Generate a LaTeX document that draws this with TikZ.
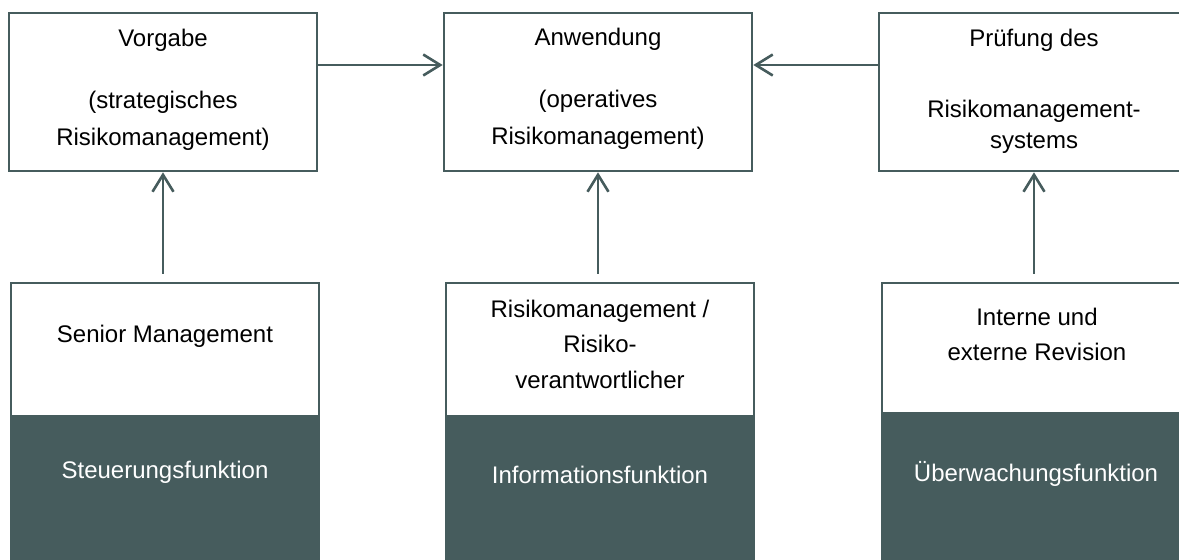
\documentclass[tikz,border=0pt]{standalone}
\usepackage{fontspec}
\setmainfont{Liberation Sans}
\usetikzlibrary{arrows.meta}
\definecolor{slate}{RGB}{70,92,93}
\newcommand\mylines[1]{\begin{tabular}[t]{@{}c@{}}#1\end{tabular}}
\begin{document}
\begin{tikzpicture}[x=1pt,y=-1pt,
  topbox/.style={draw=slate, line width=2.6pt, fill=white, inner sep=0pt,
    minimum width=308pt, minimum height=158pt},
  lowbox/.style={draw=slate, line width=2.6pt, fill=white, inner sep=0pt,
    minimum width=308pt, minimum height=133pt},
  darkbox/.style={draw=slate, fill=slate, line width=2.6pt, inner sep=0pt,
    minimum width=308pt, minimum height=190pt},
  txt/.style={anchor=base, inner sep=0pt, text=black,
    font=\fontsize{24}{37}\selectfont},
  wtxt/.style={txt, text=white},
  arr/.style={draw=slate, line width=2.6pt,
    -{Straight Barb[length=17pt,width=21pt]}}]
\useasboundingbox (0,0) rectangle (1179,560);
\clip (0,0) rectangle (1179,560);
% top boxes
\node[topbox] (vorgabe) at (163,92) {};
\node[topbox] (anwendung) at (598,92) {};
\node[topbox, minimum width=310pt] (pruefung) at (1034,92) {};
% bottom boxes
\node[lowbox] (senior) at (165,349.5) {};
\node[darkbox] (steuer) at (165,511) {};
\node[lowbox] (risk) at (600,349.5) {};
\node[darkbox] (info) at (600,511) {};
\node[lowbox, minimum width=310pt, minimum height=130pt] (revision) at (1037,348) {};
\node[darkbox, minimum width=310pt] (ueber) at (1037,508) {};
% texts
\node[txt] (t1) at (163,46) {\mylines{Vorgabe\\[25pt](strategisches\\Risikomanagement)}};
\node[txt] (t2) at (598,45) {\mylines{Anwendung\\[25pt](operatives\\Risikomanagement)}};
\node[txt, font=\fontsize{24}{31}\selectfont] (t3) at (1034,46) {\mylines{Prüfung des\\[40pt]Risikomanagement-\\systems}};
\node[txt] (t4) at (165,342) {Senior Management};
\node[wtxt] (t5) at (165,478) {Steuerungsfunktion};
\node[txt, font=\fontsize{24}{35.5}\selectfont] (t6) at (600,317) {\mylines{Risikomanagement /\\Risiko-\\verantwortlicher}};
\node[wtxt] (t7) at (600,483) {Informationsfunktion};
\node[txt, font=\fontsize{24}{35}\selectfont] (t8) at (1037,325) {\mylines{Interne und\\externe Revision}};
\node[wtxt] (t9) at (1036,481) {Überwachungsfunktion};
% connectors
\draw[arr] ([yshift=27pt]vorgabe.east) -- ([yshift=27pt]anwendung.west);
\draw[arr] ([yshift=27pt]pruefung.west) -- ([yshift=27pt]anwendung.east);
\draw[arr, shorten <=8pt] (vorgabe.south |- senior.north) -- (vorgabe.south);
\draw[arr, shorten <=8pt] (anwendung.south |- risk.north) -- (anwendung.south);
\draw[arr, shorten <=8pt] (pruefung.south |- revision.north) -- (pruefung.south);
\end{tikzpicture}
\end{document}
